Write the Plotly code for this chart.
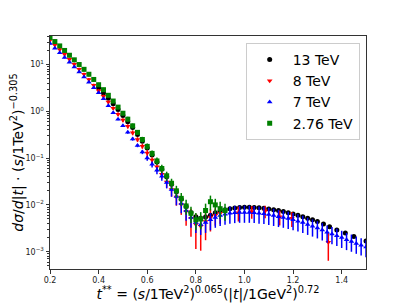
import plotly.graph_objects as go

# ---------------- data ----------------
x13 = [0.40, 0.42, 0.44, 0.46, 0.48, 0.50, 0.52, 0.54, 0.56, 0.58,
       0.60, 0.62, 0.64, 0.66, 0.68, 0.70, 0.72, 0.74, 0.76, 0.78,
       0.80, 0.82, 0.84, 0.86, 0.88, 0.90, 0.92, 0.94, 0.96, 0.98,
       1.00, 1.02, 1.04, 1.06, 1.08, 1.10, 1.12, 1.14, 1.16, 1.18,
       1.20, 1.22, 1.24, 1.26, 1.28, 1.30, 1.325, 1.35, 1.38, 1.415,
       1.45, 1.50]
y13 = [3.2, 2.45, 1.9, 1.45, 1.1, 0.81, 0.60, 0.45, 0.32, 0.23,
       0.165, 0.117, 0.083, 0.058, 0.040, 0.0275, 0.019, 0.0132, 0.0093, 0.0069,
       0.0056, 0.0052, 0.0055, 0.0060, 0.0068, 0.0074, 0.0079, 0.0083, 0.0086, 0.0088,
       0.0089, 0.0089, 0.0088, 0.0087, 0.0085, 0.0082, 0.0079, 0.0076, 0.0072, 0.0068,
       0.0064, 0.0060, 0.0056, 0.0052, 0.0048, 0.0044, 0.0039, 0.0034, 0.0029, 0.0025,
       0.0021, 0.0017]
e13_pct = [3] * 52

x8 = [0.20, 0.22, 0.24, 0.26, 0.28, 0.30, 0.32, 0.34, 0.36, 0.38,
      0.40, 0.42, 0.44, 0.46, 0.48, 0.50, 0.52, 0.54, 0.56, 0.58,
      0.60, 0.62, 0.64, 0.66, 0.68, 0.70, 0.72, 0.74, 0.76, 0.78,
      0.80, 0.82, 0.84, 0.86, 0.88, 0.90, 0.975, 1.03, 1.085, 1.145,
      1.195, 1.345]
y8 = [33, 26.3, 20.9, 16.6, 12.9, 10.2, 7.9, 6.2, 4.8, 3.6,
      2.75, 2.1, 1.58, 1.17, 0.87, 0.65, 0.48, 0.35, 0.25, 0.18,
      0.129, 0.091, 0.065, 0.045, 0.031, 0.0214, 0.0148, 0.0102, 0.0072, 0.0052,
      0.0038, 0.0035, 0.0044, 0.0054, 0.0060, 0.0066, 0.0068, 0.0072, 0.0074, 0.0056,
      0.0052, 0.0016]
e8_pct = [8, 8, 8, 8, 8, 8, 8, 8, 8, 8,
          8, 8, 8, 8, 10, 10, 10, 12, 12, 12,
          15, 15, 20, 20, 25, 30, 35, 40, 50, 60,
          70, 70, 60, 50, 40, 40, 35, 30, 30, 35,
          35, 60]

x7 = [0.20, 0.22, 0.24, 0.26, 0.28, 0.30, 0.32, 0.34, 0.36, 0.38,
      0.40, 0.42, 0.44, 0.46, 0.48, 0.50, 0.52, 0.54, 0.56, 0.58,
      0.60, 0.62, 0.64, 0.66, 0.68, 0.70, 0.72, 0.74, 0.76, 0.78,
      0.80, 0.82, 0.84, 0.86, 0.88, 0.90, 0.92, 0.94, 0.96, 0.98,
      1.00, 1.02, 1.04, 1.06, 1.08, 1.10, 1.12, 1.14, 1.16, 1.18,
      1.20, 1.22, 1.24, 1.26, 1.28, 1.30, 1.32, 1.34, 1.36, 1.38,
      1.40, 1.42, 1.44, 1.46, 1.48, 1.50]
y7 = [28, 22.4, 17.8, 14.1, 11.2, 8.9, 6.9, 5.4, 4.2, 3.2,
      2.5, 1.85, 1.32, 0.93, 0.68, 0.49, 0.355, 0.257, 0.186, 0.135,
      0.100, 0.074, 0.055, 0.041, 0.030, 0.0214, 0.0151, 0.0107, 0.0076, 0.0054,
      0.0042, 0.0038, 0.0042, 0.0048, 0.0054, 0.0059, 0.0063, 0.0066, 0.0068, 0.0069,
      0.0069, 0.0069, 0.0068, 0.0066, 0.0065, 0.0062, 0.0059, 0.0056, 0.0054, 0.0051,
      0.0048, 0.0045, 0.0042, 0.0038, 0.0035, 0.0032, 0.0029, 0.0026, 0.0024, 0.0022,
      0.0020, 0.0018, 0.00166, 0.0015, 0.00138, 0.00126]
e7_pct = [4, 4, 4, 4, 4, 4, 4, 4, 4, 4,
          4, 4, 5, 5, 5, 6, 6, 8, 8, 10,
          12, 15, 18, 20, 25, 30, 35, 38, 40, 40,
          40, 40, 40, 40, 40, 40, 40, 40, 40, 40,
          40, 40, 40, 40, 40, 40, 40, 40, 40, 40,
          40, 40, 40, 40, 40, 40, 40, 40, 40, 40,
          40, 40, 40, 40, 40, 40]

x276 = [0.20, 0.22, 0.24, 0.26, 0.28, 0.30, 0.32, 0.34, 0.36, 0.38,
        0.40, 0.42, 0.44, 0.46, 0.48, 0.50, 0.52, 0.54, 0.56, 0.58,
        0.60, 0.62, 0.64, 0.66, 0.68, 0.70, 0.72, 0.74, 0.76, 0.78,
        0.80, 0.82, 0.84, 0.86, 0.88, 0.90, 0.92]
y276 = [38, 31, 25, 20, 15.8, 12.6, 10.0, 7.9, 6.2, 4.8,
        3.7, 2.9, 2.2, 1.66, 1.23, 0.91, 0.68, 0.49, 0.355, 0.25,
        0.178, 0.126, 0.087, 0.060, 0.042, 0.029, 0.020, 0.0138, 0.0095, 0.0066,
        0.0048, 0.0050, 0.0076, 0.0117, 0.0100, 0.0083, 0.0076]
e276_pct = [10, 10, 10, 10, 10, 10, 10, 10, 10, 10,
            10, 10, 10, 10, 10, 10, 12, 12, 12, 14,
            15, 15, 18, 20, 22, 25, 28, 30, 35, 38,
            40, 40, 40, 35, 35, 40, 40]

names = ["13 TeV", "8 TeV", "7 TeV", "2.76 TeV"]
colors = ["black", "red", "blue", "green"]
symbols = ["circle", "triangle-down", "triangle-up", "square"]

ytickvals = [1e-3, 1e-2, 1e-1, 1e0, 1e1]
yticktext = ["10<sup>−3</sup>", "10<sup>−2</sup>", "10<sup>−1</sup>", "10<sup>0</sup>", "10<sup>1</sup>"]
xtickvals = [0.2, 0.4, 0.6, 0.8, 1.0, 1.2, 1.4]
xticktext = ["0.2", "0.4", "0.6", "0.8", "1.0", "1.2", "1.4"]

# ---------------- figure ----------------
fig = go.Figure()
series = [(x13, y13, e13_pct), (x8, y8, e8_pct), (x7, y7, e7_pct), (x276, y276, e276_pct)]
for (xs, ys, ep), name, col, sym in zip(series, names, colors, symbols):
    err = [y * p / 100.0 for y, p in zip(ys, ep)]
    fig.add_trace(go.Scatter(
        x=xs, y=ys, mode="markers", name=name,
        marker=dict(color=col, symbol=sym, size=5, line=dict(width=0)),
        error_y=dict(type="data", array=err, visible=True, color=col,
                     thickness=1.5, width=0),
    ))

minor_vals = [k * 10.0 ** n for n in range(-4, 2) for k in range(2, 10)]

font_family = "DejaVu Sans"
# the page body has an 8 px margin, so the figure is 8 px smaller and margins are shifted
fig.update_layout(
    width=399, height=295,
    margin=dict(l=42, r=41, t=28, b=34),
    paper_bgcolor="white", plot_bgcolor="white",
    font=dict(family=font_family, color="black"),
    showlegend=True,
    legend=dict(x=0.98, y=0.97, xanchor="right", yanchor="top",
                bgcolor="rgba(255,255,255,0.8)", bordercolor="#cccccc",
                borderwidth=1, font=dict(size=14, family=font_family),
                itemsizing="trace", itemwidth=36),
    xaxis=dict(range=[0.2, 1.5], tickvals=xtickvals, ticktext=xticktext,
               automargin=False,
               ticks="outside", ticklen=3.5, tickwidth=0.8, tickcolor="#333",
               tickfont=dict(size=8, color="#222"),
               showline=True, mirror=True, linecolor="#333", linewidth=1,
               showgrid=False, zeroline=False,
               title=dict(text="<i>t</i><sup>**</sup> = (<i>s</i>/1TeV<sup>2</sup>)<sup>0.065</sup>(|<i>t</i>|/1GeV<sup>2</sup>)<sup>0.72</sup>",
                          font=dict(size=14), standoff=2)),
    yaxis=dict(type="log", range=[-3.37, 1.61], tickvals=ytickvals, ticktext=yticktext,
               automargin=False,
               ticks="outside", ticklen=3.5, tickwidth=0.8, tickcolor="#333",
               tickfont=dict(size=8, color="#222"),
               minor=dict(tickvals=minor_vals, ticks="outside", ticklen=2,
                          tickwidth=0.6, tickcolor="#333", showgrid=False),
               showline=True, mirror=True, linecolor="#333", linewidth=1,
               showgrid=False, zeroline=False,
               title=dict(text="<i>dσ</i>/<i>d</i>|<i>t</i>| · (<i>s</i>/1TeV<sup>2</sup>)<sup>−0.305</sup>",
                          font=dict(size=14), standoff=2)),
)

fig.write_html("out.html")
